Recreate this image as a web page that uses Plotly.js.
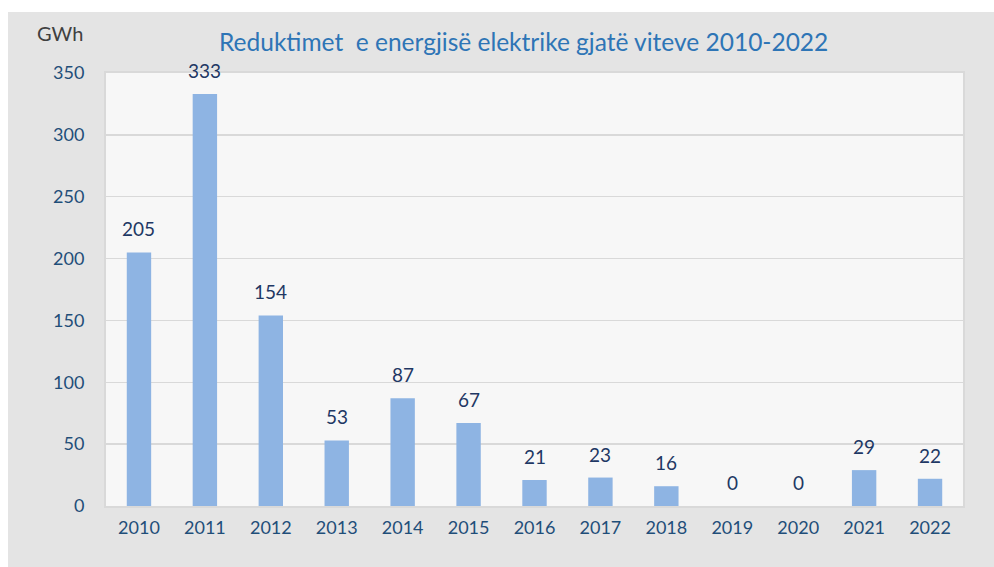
<!DOCTYPE html>
<html><head><meta charset="utf-8">
<script src="https://cdn.plot.ly/plotly-3.0.1.min.js"></script>
<style>
html,body{margin:0;padding:0;background:#ffffff;width:994px;height:567px;overflow:hidden;}
#chart{position:absolute;left:8px;top:12px;width:986px;height:555px;}
</style></head>
<body><div id="chart"></div>
<script>
const years = ['2010','2011','2012','2013','2014','2015','2016','2017','2018','2019','2020','2021','2022'];
const values = [205,333,154,53,87,67,21,23,16,0,0,29,22];
const yTicks = [0,50,100,150,200,250,300,350];
const titleText = 'Reduktimet&nbsp; e energjisë elektrike gjatë viteve 2010-2022';
const unitLabel = 'GWh';

const trace = {
  type:'bar', x:years, y:values,
  marker:{color:'#8eb4e3', line:{width:0}},
  width:0.37, hoverinfo:'skip'
};
const valueLabels = years.map((yr,i)=>({
  x:i, y:values[i], xref:'x', yref:'y', text:String(values[i]),
  showarrow:false, xanchor:'center', yanchor:'bottom', yshift:10,
  font:{family:'Lato, sans-serif', size:19, color:'#1f3864'}
}));
const layout = {
  width:986, height:555,
  paper_bgcolor:'#e4e4e4', plot_bgcolor:'#f7f7f7',
  margin:{l:98,r:31,t:61,b:61},
  showlegend:false,
  title:{text:titleText, x:0.523, xanchor:'center', y:0.946, yanchor:'middle',
    font:{family:'Lato, sans-serif', size:24.5, color:'#2e75b6'}},
  xaxis:{type:'category', categoryarray:years, range:[-0.5, years.length-0.5],
    showgrid:false, zeroline:false,
    showline:true, linecolor:'#d9d9d9', linewidth:2, mirror:true,
    ticks:'outside', ticklen:4, tickcolor:'rgba(0,0,0,0)',
    tickfont:{family:'Lato, sans-serif', size:18, color:'#1f4e79'}},
  yaxis:{range:[0,350], tickvals:yTicks, showgrid:true, gridcolor:'#d9d9d9', gridwidth:1.5,
    zeroline:false, showline:true, linecolor:'#d9d9d9', linewidth:2, mirror:true,
    ticks:'outside', ticklen:16, tickcolor:'rgba(0,0,0,0)',
    tickfont:{family:'Lato, sans-serif', size:18, color:'#1f4e79'}},
  annotations:[{text:unitLabel, xref:'paper', yref:'paper', x:-0.083, y:1.093,
    xanchor:'left', yanchor:'middle', showarrow:false,
    font:{family:'Lato, sans-serif', size:20, color:'#404040'}}].concat(valueLabels),
  bargap:0.63
};
Plotly.newPlot('chart',[trace],layout,{displayModeBar:false,staticPlot:true});
</script></body></html>
